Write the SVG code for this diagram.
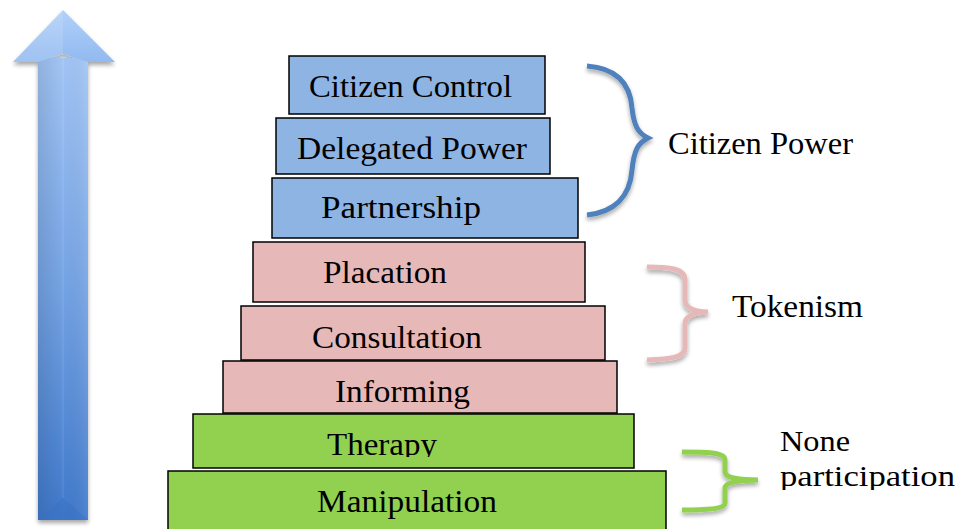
<svg xmlns="http://www.w3.org/2000/svg" width="965" height="529" viewBox="0 0 965 529">
  <defs>
    <linearGradient id="shaftGrad" x1="0" y1="0" x2="0" y2="1">
      <stop offset="0" stop-color="#a2c5f5"/>
      <stop offset="0.5" stop-color="#74a3e4"/>
      <stop offset="1" stop-color="#4079cc"/>
    </linearGradient>
    <linearGradient id="shaftSide" x1="0" y1="0" x2="1" y2="0">
      <stop offset="0" stop-color="#000" stop-opacity="0.10"/>
      <stop offset="0.5" stop-color="#000" stop-opacity="0"/>
      <stop offset="1" stop-color="#fff" stop-opacity="0.08"/>
    </linearGradient>
    <linearGradient id="headGrad" x1="0" y1="0" x2="0" y2="1">
      <stop offset="0" stop-color="#b0d0f9"/>
      <stop offset="1" stop-color="#92baf0"/>
    </linearGradient>
    <filter id="shadow" x="-20%" y="-20%" width="140%" height="140%">
      <feGaussianBlur in="SourceAlpha" stdDeviation="2"/>
      <feOffset dx="0" dy="3" result="b"/>
      <feComponentTransfer><feFuncA type="linear" slope="0.35"/></feComponentTransfer>
      <feMerge><feMergeNode/><feMergeNode in="SourceGraphic"/></feMerge>
    </filter>
    <clipPath id="clipTherapy"><rect x="190" y="414" width="450" height="43"/></clipPath>
    <clipPath id="clipNone"><rect x="770" y="420" width="195" height="70"/></clipPath>
    <style>
      .step { stroke: #000; stroke-width: 1.5; }
      .blue { fill: #8eb4e3; }
      .pink { fill: #e6b9b8; }
      .green { fill: #92d050; }
      .lbl { font-family: "Liberation Serif", "DejaVu Serif", serif; font-size: 32px; fill: #000; }
      .small { font-size: 30px; }
      .brace { fill: none; stroke-width: 5; stroke-linecap: butt; filter: url(#shadow); }
    </style>
  </defs>

  <!-- rising arrow -->
  <g id="arrow" filter="url(#shadow)">
    <rect x="38" y="58" width="50" height="462" fill="url(#shaftGrad)"/>
    <rect x="38" y="58" width="50" height="462" fill="url(#shaftSide)"/>
    <line x1="63" y1="58" x2="63" y2="498" stroke="#ffffff" stroke-opacity="0.12" stroke-width="1"/>
    <path d="M38,520 L63,498 L88,520 Z" fill="#3a72c2" opacity="0.5"/>
    <path d="M63,10 L115,62 L88,62 L63,54 L38,62 L13,62 Z" fill="url(#headGrad)"/>
    <path d="M63,10 L63,54 L38,62 L13,62 Z" fill="#ffffff" opacity="0.12"/>
  </g>

  <!-- ladder rungs -->
  <g id="citizen-control">
    <rect class="step blue" x="289" y="56" width="256" height="58"/>
    <text class="lbl" x="309" y="97" textLength="203" lengthAdjust="spacingAndGlyphs">Citizen Control</text>
  </g>
  <g id="delegated-power">
    <rect class="step blue" x="276" y="118" width="274" height="56"/>
    <text class="lbl" x="297" y="159" textLength="230" lengthAdjust="spacingAndGlyphs">Delegated Power</text>
  </g>
  <g id="partnership">
    <rect class="step blue" x="272" y="178" width="306" height="60"/>
    <text class="lbl" x="321" y="218" textLength="160" lengthAdjust="spacingAndGlyphs">Partnership</text>
  </g>
  <g id="placation">
    <rect class="step pink" x="253" y="242" width="332" height="60"/>
    <text class="lbl" x="323" y="283" textLength="124" lengthAdjust="spacingAndGlyphs">Placation</text>
  </g>
  <g id="consultation">
    <rect class="step pink" x="241" y="306" width="364" height="54"/>
    <text class="lbl" x="312" y="348" textLength="170" lengthAdjust="spacingAndGlyphs">Consultation</text>
  </g>
  <g id="informing">
    <rect class="step pink" x="223" y="361" width="394" height="52"/>
    <text class="lbl" x="335" y="402" textLength="135" lengthAdjust="spacingAndGlyphs">Informing</text>
  </g>
  <g id="therapy">
    <rect class="step green" x="193" y="414" width="441" height="54"/>
    <text class="lbl" x="327" y="455" textLength="110" lengthAdjust="spacingAndGlyphs" clip-path="url(#clipTherapy)">Therapy</text>
  </g>
  <g id="manipulation">
    <rect class="step green" x="168" y="471" width="498" height="70"/>
    <text class="lbl" x="317" y="512" textLength="180" lengthAdjust="spacingAndGlyphs">Manipulation</text>
  </g>

  <!-- grouping braces -->
  <g id="connectors">
    <path class="brace" stroke="#4f81bd" d="M587,66 C615,68 630,82 632,108 C634,126 638,133 648,138 C638,143 634,150 632,170 C630,196 615,212 587,215"/>
    <path class="brace" stroke="#e6b9b8" stroke-width="6" d="M647,267 C668,267 685,268 685,280 L685,300 C685,308 695,312 708,312 C695,312 685,316 685,324 L685,348 C685,358 668,359 647,360"/>
    <path class="brace" stroke="#92d050" d="M682,452 C705,452 725,452 725,460 L725,472 C725,478 740,480 758,480 C740,480 725,482 725,488 L725,503 C725,509 705,510 682,510"/>
  </g>

  <g id="citizen-power">
    <text class="lbl" x="668" y="154" textLength="185" lengthAdjust="spacingAndGlyphs">Citizen Power</text>
  </g>
  <g id="tokenism">
    <text class="lbl" x="732" y="317" textLength="131" lengthAdjust="spacingAndGlyphs">Tokenism</text>
  </g>
  <g id="none-participation" clip-path="url(#clipNone)">
    <text class="lbl small" x="780" y="451" textLength="70" lengthAdjust="spacingAndGlyphs">None</text>
    <text class="lbl small" x="780" y="486" textLength="175" lengthAdjust="spacingAndGlyphs">participation</text>
  </g>
</svg>
